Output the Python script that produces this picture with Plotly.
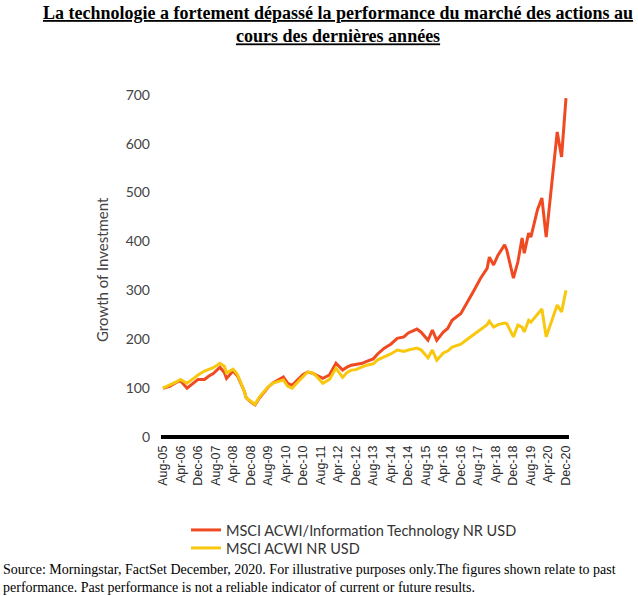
import plotly.graph_objects as go

dates = ["2005-08-01", "2005-11-01", "2006-02-01", "2006-04-01", "2006-07-01", "2006-10-01",
         "2006-12-01", "2007-03-01", "2007-05-01", "2007-07-01", "2007-10-01", "2007-12-01",
         "2008-01-01", "2008-04-01", "2008-06-01", "2008-09-01", "2008-10-01", "2008-12-01",
         "2009-02-01", "2009-04-01", "2009-06-01", "2009-08-01", "2009-10-01", "2009-12-01",
         "2010-03-01", "2010-05-01", "2010-07-01", "2010-09-01", "2010-12-01", "2011-02-01",
         "2011-04-01", "2011-06-01", "2011-09-01", "2011-12-01", "2012-03-01", "2012-06-01",
         "2012-08-01", "2012-10-01", "2012-12-01", "2013-03-01", "2013-05-01", "2013-08-01",
         "2013-10-01", "2014-01-01", "2014-04-01", "2014-07-01", "2014-10-01", "2014-12-01",
         "2015-04-01", "2015-06-01", "2015-09-01", "2015-11-01", "2016-01-01", "2016-04-01",
         "2016-06-01", "2016-08-01", "2016-12-01", "2017-03-01", "2017-06-01", "2017-09-01",
         "2017-12-01", "2018-01-01", "2018-03-01", "2018-05-01", "2018-08-01", "2018-09-01",
         "2018-12-01", "2019-02-01", "2019-04-01", "2019-05-01", "2019-07-01", "2019-08-01",
         "2019-11-01", "2020-01-01", "2020-03-01", "2020-08-01", "2020-10-01", "2020-12-01"]

tech = [100, 104, 112, 115, 100, 110,
        118, 118, 125, 130, 143, 132,
        120, 135, 125, 95, 80, 72,
        66, 80, 92, 102, 110, 115,
        123, 110, 106, 115, 128, 133,
        131, 127, 120, 127, 151, 137,
        143, 147, 148, 151, 155, 160,
        170, 182, 190, 202, 205, 213,
        221, 214, 198, 219, 198, 215,
        222, 239, 253, 275, 300, 325,
        345, 368, 352, 372, 393, 382,
        325, 358, 407, 376, 417, 409,
        465, 489, 409, 624, 573, 693]

acwi = [100, 106, 113, 118, 110, 120,
        127, 135, 138, 142, 151, 145,
        131, 139, 128, 95, 80, 74,
        67, 82, 93, 103, 110, 113,
        117, 104, 100, 110, 125, 133,
        132, 125, 110, 118, 141, 122,
        132, 137, 138, 143, 147, 150,
        158, 164, 170, 178, 175, 178,
        182, 178, 162, 178, 157, 172,
        176, 184, 190, 200, 210, 220,
        230, 237, 225, 230, 233, 232,
        205, 229, 225, 215, 239, 235,
        252, 262, 205, 270, 256, 300]

tick_dates = ["2005-08-01", "2006-04-01", "2006-12-01", "2007-08-01", "2008-04-01", "2008-12-01",
              "2009-08-01", "2010-04-01", "2010-12-01", "2011-08-01", "2012-04-01", "2012-12-01",
              "2013-08-01", "2014-04-01", "2014-12-01", "2015-08-01", "2016-04-01", "2016-12-01",
              "2017-08-01", "2018-04-01", "2018-12-01", "2019-08-01", "2020-04-01", "2020-12-01"]
tick_labels = ["Aug-05", "Apr-06", "Dec-06", "Aug-07", "Apr-08", "Dec-08",
               "Aug-09", "Apr-10", "Dec-10", "Aug-11", "Apr-12", "Dec-12",
               "Aug-13", "Apr-14", "Dec-14", "Aug-15", "Apr-16", "Dec-16",
               "Aug-17", "Apr-18", "Dec-18", "Aug-19", "Apr-20", "Dec-20"]

RED = "#EF4A22"
YEL = "#F8C80F"

W, H = 638, 596
ML, MR, MT, MB = 161, 69, 85, 154
PW, PH = W - ML - MR, H - MT - MB


def px_x(px):
    return (px - ML) / PW


def px_y(py):
    return (H - MB - py) / PH


fig = go.Figure()
fig.add_trace(go.Scatter(x=dates, y=tech, mode="lines", name="MSCI ACWI/Information Technology NR USD",
                         line=dict(color=RED, width=3), legend="legend"))
fig.add_trace(go.Scatter(x=dates, y=acwi, mode="lines", name="MSCI ACWI NR USD",
                         line=dict(color=YEL, width=3), legend="legend2"))

leg_common = dict(xanchor="left", yanchor="middle", orientation="v",
                  font=dict(family="Lato", size=14.5, color="#333333"),
                  bgcolor="rgba(0,0,0,0)", itemwidth=30)

fig.update_layout(
    width=W, height=H,
    margin=dict(l=ML, r=MR, t=MT, b=MB, autoexpand=False),
    paper_bgcolor="white", plot_bgcolor="white",
    xaxis=dict(
        type="date",
        range=["2005-07-04", "2021-01-12"],
        tickvals=tick_dates, ticktext=tick_labels,
        tickangle=-90, showgrid=False, showline=False, zeroline=False,
        ticks="", tickfont=dict(family="Liberation Sans", size=12.5, color="#2a2a2a"),
        automargin=False,
    ),
    yaxis=dict(
        range=[-10, 720], tickvals=[0, 100, 200, 300, 400, 500, 600, 700],
        showgrid=False, showline=False, zeroline=True, zerolinecolor="black", zerolinewidth=4,
        ticks="", ticklabelstandoff=10, automargin=False,
        tickfont=dict(family="Lato", size=14, color="#444444"),
    ),
    legend=dict(x=px_x(186), y=px_y(530), **leg_common),
    legend2=dict(x=px_x(186), y=px_y(548), **leg_common),
    showlegend=True,
)

fig.add_annotation(
    xref="paper", yref="paper", x=px_x(102), y=px_y(270), xanchor="center", yanchor="middle",
    text="Growth of Investment", textangle=-90, showarrow=False,
    font=dict(family="Lato", size=15, color="#444444"),
)

fig.add_annotation(
    xref="paper", yref="paper", x=px_x(338), y=px_y(1), xanchor="center", yanchor="top",
    text="<b><u>La technologie a fortement dépassé la performance du marché des actions au</u></b><br>"
         "<b><u>cours des dernières années</u></b>",
    showarrow=False, align="center",
    font=dict(family="Liberation Serif", size=18, color="black"),
)

fig.add_annotation(
    xref="paper", yref="paper", x=px_x(1), y=px_y(597), xanchor="left", yanchor="bottom",
    text="Source: Morningstar, FactSet December, 2020. For illustrative purposes only.The figures shown relate to past<br>"
         "performance. Past performance is not a reliable indicator of current or future results.",
    showarrow=False, align="left",
    font=dict(family="Liberation Serif", size=14, color="black"),
)

fig.write_html("out.html")
